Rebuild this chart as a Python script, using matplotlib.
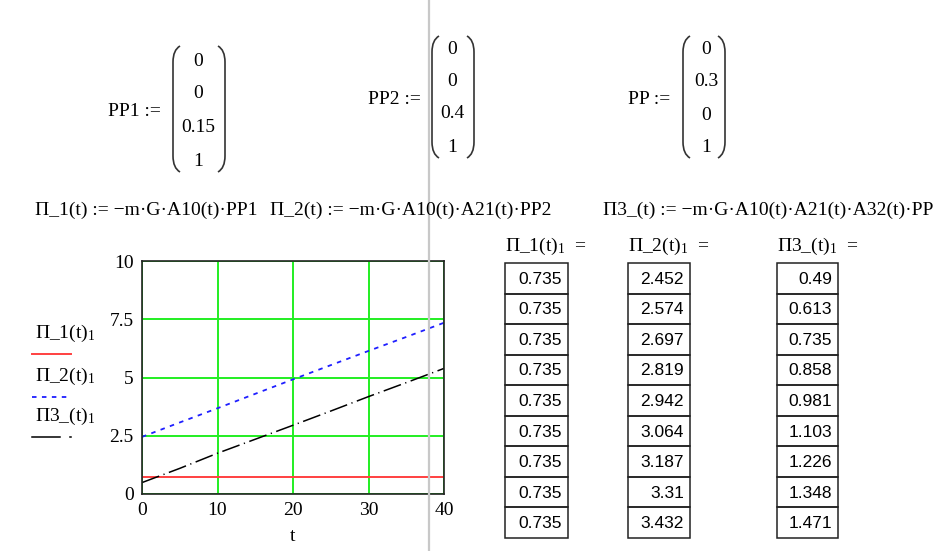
import matplotlib
matplotlib.use("Agg")
import matplotlib.pyplot as plt
from matplotlib.path import Path
from matplotlib.patches import PathPatch

# ---------------- DATA ---------------- #
t_vals = [0, 5, 10, 15, 20, 25, 30, 35, 40]
p1_vals = [0.735, 0.735, 0.735, 0.735, 0.735, 0.735, 0.735, 0.735, 0.735]
p2_vals = [2.452, 3.07, 3.68, 4.30, 4.92, 5.53, 6.14, 6.74, 7.35]
p3_vals = [0.49, 1.10, 1.75, 2.35, 2.95, 3.56, 4.18, 4.78, 5.39]

pp1 = ["0", "0", "0.15", "1"]
pp2 = ["0", "0", "0.4", "1"]
pp = ["0", "0.3", "0", "1"]

table1 = ["0.735"] * 9
table2 = ["2.452", "2.574", "2.697", "2.819", "2.942", "3.064", "3.187", "3.31", "3.432"]
table3 = ["0.49", "0.613", "0.735", "0.858", "0.981", "1.103", "1.226", "1.348", "1.471"]

x_ticks = [0, 10, 20, 30, 40]
y_ticks = [0, 2.5, 5, 7.5, 10]
y_tick_labels = ["0", "2.5", "5", "7.5", "10"]

SERIF = "Liberation Serif"
SANS = "Liberation Sans"
plt.rcParams["mathtext.fontset"] = "custom"
plt.rcParams["mathtext.rm"] = SERIF
plt.rcParams["mathtext.it"] = SERIF + ":italic"

W, H = 951, 551
fig = plt.figure(figsize=(W / 100, H / 100), dpi=100)
fig.patch.set_facecolor("white")

# ---------------- PLOT ---------------- #
ax = fig.add_axes([142 / W, 1 - 494 / H, 302 / W, 233 / H])
ax.plot(t_vals, p1_vals, color="#ff4040", lw=1.4)
ax.plot(t_vals, p2_vals, color="#1f1fff", lw=1.3, dashes=(2.5, 3))
ax.plot(t_vals, p3_vals, color="black", lw=1.1, dashes=(12, 3, 0.8, 3))
ax.set_xlim(0, 40)
ax.set_ylim(0, 10)
ax.set_xticks(x_ticks)
ax.set_yticks(y_ticks)
ax.set_yticklabels(y_tick_labels)
ax.grid(True, color="#22ee22", lw=1.4)
ax.tick_params(length=0, labelsize=14, pad=6)
for lab in ax.get_xticklabels() + ax.get_yticklabels():
    lab.set_family(SERIF)
for sp in ax.spines.values():
    sp.set_linewidth(1.2)
    sp.set_color("#222222")
ax.set_xlabel("t", family=SERIF, fontsize=14, labelpad=6)

# ---------------- OVERLAY (worksheet text) ---------------- #
ov = fig.add_axes([0, 0, 1, 1], zorder=5)
ov.set_xlim(0, W)
ov.set_ylim(H, 0)
ov.axis("off")
ov.patch.set_alpha(0)

ov.plot([429, 429], [0, H], color="#c8c8c8", lw=1.6)


def txt(x, y, s, ha="left", size=14, family=SERIF):
    ov.text(x, y, s, ha=ha, va="center", fontsize=size, family=family)


def paren(x, top, bot, left=True):
    d = 7 if left else -7
    verts = [(x + d, top), (x, top + 4), (x, top + 16),
             (x, bot - 16),
             (x, bot - 4), (x + d, bot)]
    codes = [Path.MOVETO, Path.CURVE3, Path.CURVE3, Path.LINETO,
             Path.CURVE3, Path.CURVE3]
    ov.add_patch(PathPatch(Path(verts, codes), fill=False, lw=1.2, color="#333333"))


def matrix(label, lx, ly, vals, cx, ys, left_x, right_x, top, bot):
    txt(lx, ly, label)
    paren(left_x, top, bot, True)
    paren(right_x, top, bot, False)
    for v, y in zip(vals, ys):
        txt(cx, y, v, ha="center")


matrix("PP1 :=", 108, 112, pp1, 198, [62, 94, 128, 161], 173, 225, 46, 172)
matrix("PP2 :=", 368, 100, pp2, 452, [50, 81, 114, 148], 432, 474, 36, 158)
matrix("PP :=", 628, 100, pp, 706, [50, 82, 115, 148], 683, 725, 36, 158)

txt(35, 210, "П_1(t) := −m·G·A10(t)·PP1")
txt(270, 210, "П_2(t) := −m·G·A10(t)·A21(t)·PP2")
txt(603, 210, "П3_(t) := −m·G·A10(t)·A21(t)·A32(t)·PP")

# headers
txt(505, 246, r"П_1(t)$_1$  =")
txt(628, 246, r"П_2(t)$_1$  =")
txt(777, 246, r"П3_(t)$_1$  =")

# tables
row_h = (538 - 263) / 9
for vals, x0, x1 in [(table1, 505, 568), (table2, 628, 690), (table3, 777, 838)]:
    for i, v in enumerate(vals):
        y0 = 263 + i * row_h
        ov.add_patch(plt.Rectangle((x0, y0), x1 - x0, row_h, fill=False,
                                   lw=1.1, ec="#222222"))
        txt(x1 - 6, y0 + row_h / 2 + 1, v, ha="right", size=12.5, family=SANS)

# legend
txt(35, 333, r"П_1(t)$_1$")
ov.plot([32, 71], [354, 354], color="#ff4040", lw=1.4)
txt(35, 376, r"П_2(t)$_1$")
ov.plot([32, 71], [397, 397], color="#1f1fff", lw=1.3, dashes=(2.5, 3))
txt(35, 416, r"П3_(t)$_1$")
ov.plot([32, 60], [437, 437], color="black", lw=1.1)
ov.plot([69.5, 70.5], [437, 437], color="black", lw=1.1)

fig.savefig("out.png", dpi=100)
